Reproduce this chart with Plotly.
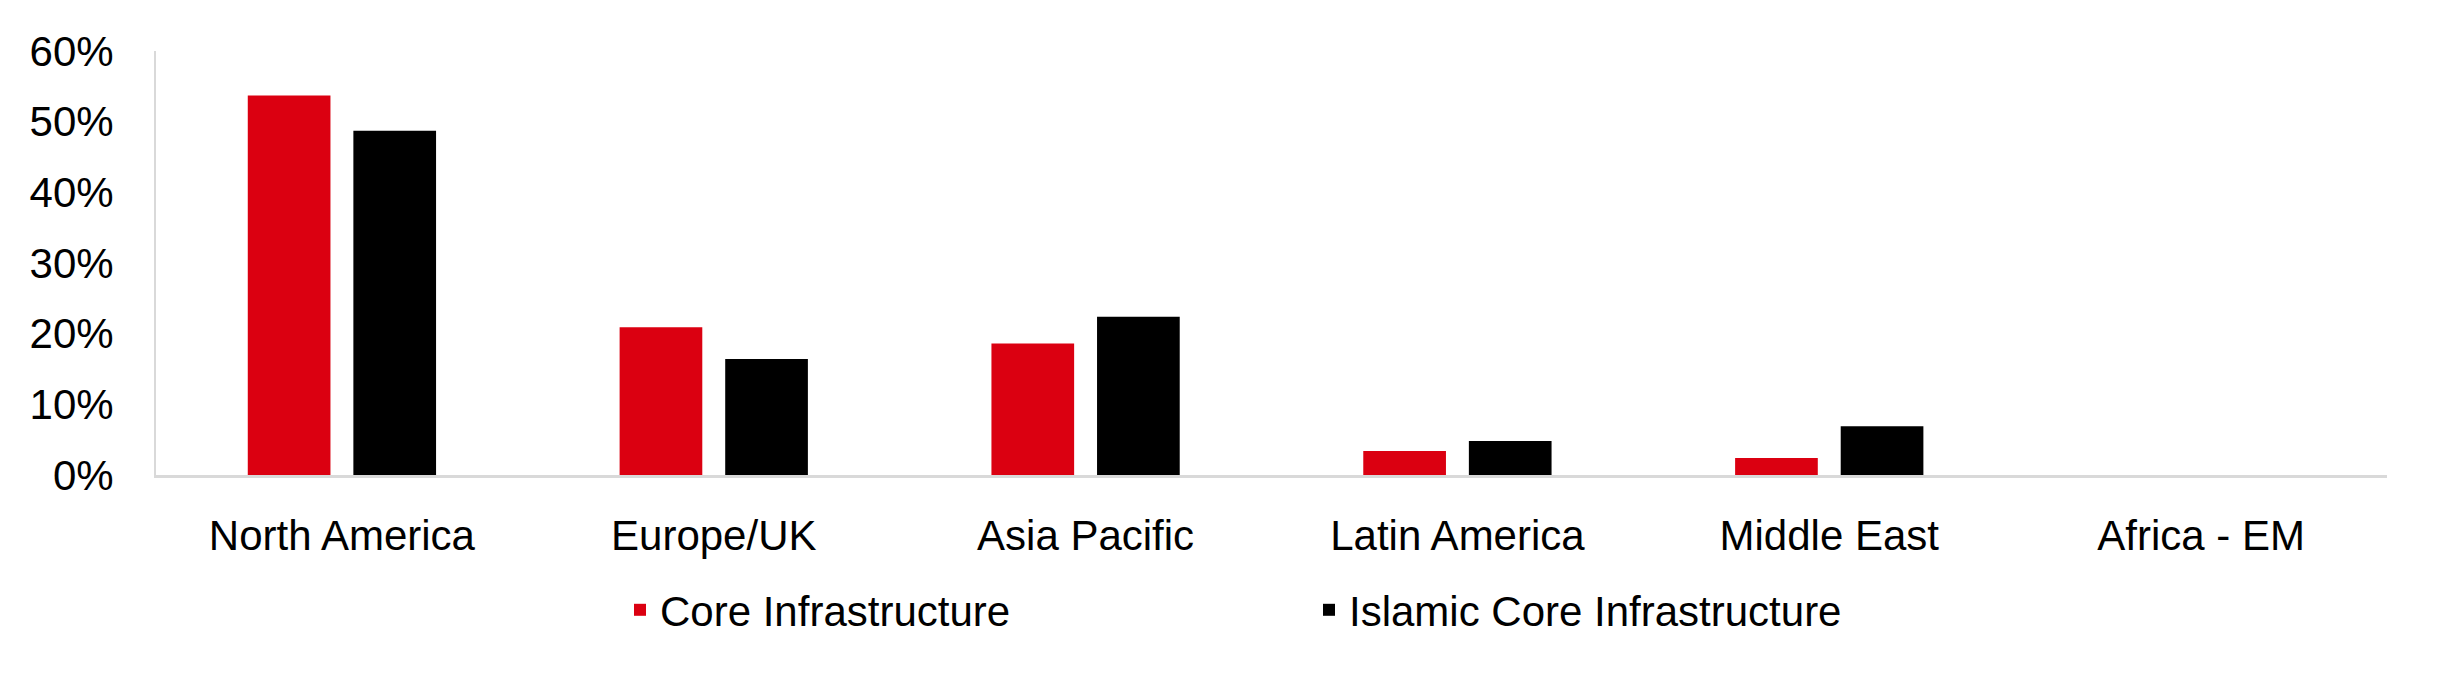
import plotly.graph_objects as go

categories = ["North America", "Europe/UK", "Asia Pacific", "Latin America", "Middle East", "Africa - EM"]
core_infra = [53.7, 20.9, 18.6, 3.4, 2.4, 0.0]
islamic_core_infra = [48.7, 16.4, 22.4, 4.8, 6.9, 0.0]
y_ticks = [0, 10, 20, 30, 40, 50, 60]
y_tick_labels = ["0%", "10%", "20%", "30%", "40%", "50%", "60%"]

FONT = "Liberation Sans, Arial, sans-serif"
W, H = 2423, 681

fig = go.Figure()
fig.add_trace(go.Bar(name="Core Infrastructure", x=categories, y=core_infra,
                     marker=dict(color="#DB0011", line=dict(width=0))))
fig.add_trace(go.Bar(name="Islamic Core Infrastructure", x=categories, y=islamic_core_infra,
                     marker=dict(color="#000000", line=dict(width=0))))

fig.update_layout(
    width=W, height=H,
    margin=dict(l=148, r=44, t=43, b=214),
    paper_bgcolor="white", plot_bgcolor="white",
    barmode="group", bargap=0.432, bargroupgap=0.217,
    font=dict(family=FONT, size=42, color="#000000"),
    showlegend=True,
    legend=dict(orientation="h", xref="container", yref="container",
                x=612 / W, xanchor="left", y=1 - 602 / H, yanchor="middle",
                entrywidth=644, font=dict(size=42, family=FONT),
                bgcolor="rgba(0,0,0,0)"),
    xaxis=dict(showgrid=False, showline=True, linecolor="#D9D9D9", linewidth=3,
               ticks="", tickfont=dict(size=42, family=FONT), ticklabelstandoff=22,
               zeroline=False),
    yaxis=dict(range=[0, 60], tickvals=y_ticks, ticktext=y_tick_labels,
               showgrid=False, showline=True, linecolor="#D9D9D9", linewidth=2,
               ticks="", tickfont=dict(size=42, family=FONT), ticklabelstandoff=32,
               zeroline=False),
)

fig.write_html("out.html")
